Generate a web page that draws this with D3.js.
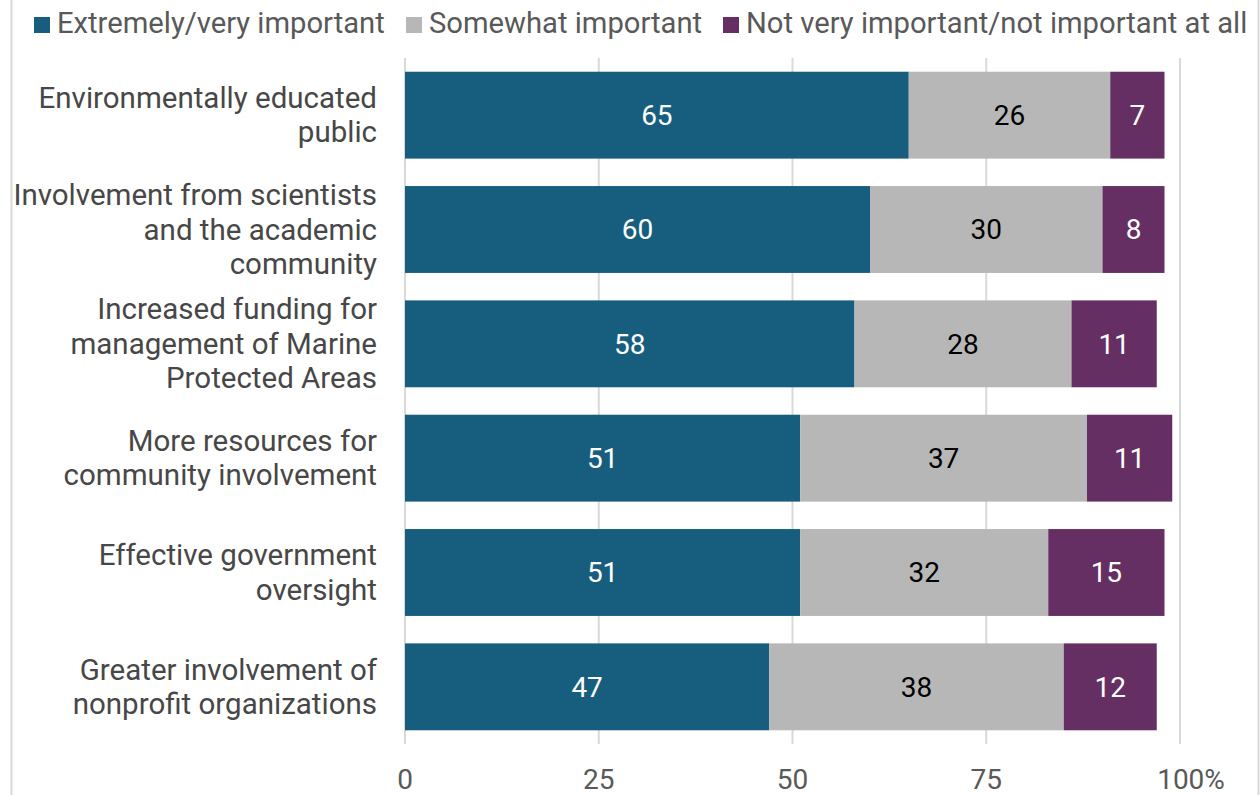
<!DOCTYPE html>
<html><head><meta charset="utf-8">
<script src="https://cdn.jsdelivr.net/npm/d3@7"></script>
<style>
html,body{margin:0;padding:0;background:#fff;}
svg{display:block;font-family:Roboto, "Noto Sans", sans-serif;}
</style></head>
<body>
<svg id="chart" width="1260" height="795"></svg>
<script>
const categories = [
  ["Environmentally educated", "public"],
  ["Involvement from scientists", "and the academic", "community"],
  ["Increased funding for", "management of Marine", "Protected Areas"],
  ["More resources for", "community involvement"],
  ["Effective government", "oversight"],
  ["Greater involvement of", "nonprofit organizations"]
];
const seriesNames = ["Extremely/very important", "Somewhat important", "Not very important/not important at all"];
const extremely = [65, 60, 58, 51, 51, 47];
const somewhat = [26, 30, 28, 37, 32, 38];
const notImportant = [7, 8, 11, 11, 15, 12];
const tickValues = [0, 25, 50, 75, 100];
const tickLabels = ["0", "25", "50", "75", "100%"];
const colors = ["#175e7e", "#b7b7b7", "#652f63"];
const labelColors = ["#ffffff", "#000000", "#ffffff"];

const svg = d3.select("#chart");
const W = 1260, H = 795;

// frame lines
svg.append("line").attr("x1", 11.5).attr("x2", 11.5).attr("y1", 0).attr("y2", H).attr("stroke", "#d9d9d9").attr("stroke-width", 2);
svg.append("line").attr("x1", 1258.5).attr("x2", 1258.5).attr("y1", 0).attr("y2", H).attr("stroke", "#d9d9d9").attr("stroke-width", 2);

const x = d3.scaleLinear().domain([0, 100]).range([405, 1180]);
const idx = d3.range(categories.length);
const y = d3.scaleBand().domain(idx).range([58, 744]).paddingInner(0.24).paddingOuter(0.12);

// grid
svg.append("g").selectAll("line").data(tickValues).join("line")
  .attr("x1", d => x(d)).attr("x2", d => x(d))
  .attr("y1", 58).attr("y2", 744)
  .attr("stroke", "#d9d9d9").attr("stroke-width", 2);

const data = idx.map(i => ({i, vals: [extremely[i], somewhat[i], notImportant[i]]}));
const stack = d3.stack().keys([0, 1, 2]).value((d, k) => d.vals[k]);
const stacked = stack(data);

const g = svg.append("g");
stacked.forEach((layer, k) => {
  g.selectAll(null).data(layer).join("rect")
    .attr("x", d => x(d[0]))
    .attr("y", d => y(d.data.i))
    .attr("width", d => x(d[1]) - x(d[0]))
    .attr("height", y.bandwidth())
    .attr("fill", colors[k]);
  g.selectAll(null).data(layer).join("text")
    .attr("x", d => (x(d[0]) + x(d[1])) / 2)
    .attr("y", d => y(d.data.i) + y.bandwidth() / 2)
    .attr("dy", "0.35em")
    .attr("text-anchor", "middle")
    .attr("font-size", 28)
    .attr("fill", labelColors[k])
    .text(d => d.data.vals[k]);
});

// category labels
const lh = 34.5;
idx.forEach(i => {
  const lines = categories[i];
  const cy = y(i) + y.bandwidth() / 2;
  const t = svg.append("text").attr("text-anchor", "end").attr("font-size", 29.5).attr("fill", "#474747");
  lines.forEach((ln, j) => {
    t.append("tspan").attr("x", 377)
      .attr("y", cy + (j - (lines.length - 1) / 2) * lh)
      .attr("dy", "0.34em").text(ln);
  });
});

// x axis labels
const ax = svg.append("g");
ax.selectAll("text").data(tickValues).join("text")
  .attr("x", (d, i) => x(d) + (i === tickValues.length - 1 ? 11 : 0))
  .attr("y", 789)
  .attr("text-anchor", "middle")
  .attr("font-size", 28)
  .attr("fill", "#595959")
  .text((d, i) => tickLabels[i]);

// legend
const legendX = [34, 406, 723];
const lg = svg.append("g");
seriesNames.forEach((n, k) => {
  lg.append("rect").attr("x", legendX[k]).attr("y", 17).attr("width", 16).attr("height", 16).attr("fill", colors[k]);
  lg.append("text").attr("x", legendX[k] + 23).attr("y", 33)
    .attr("font-size", 29.2).attr("fill", "#595959").text(n);
});
</script>
</body></html>
